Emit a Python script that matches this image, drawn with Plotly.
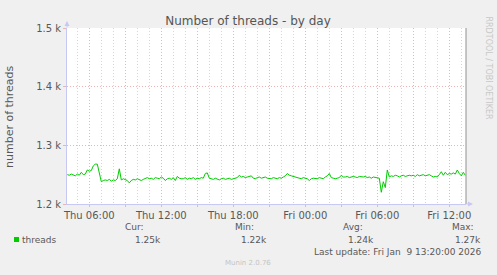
import plotly.graph_objects as go
import pandas as pd

# ---------------- data ----------------
start_time = "2026-01-08 04:10"
threads = [
    1250, 1249, 1251, 1250, 1248, 1251, 1249, 1254, 1250, 1251,
    1258, 1256, 1257, 1265, 1268, 1268, 1250, 1238, 1240, 1241,
    1240, 1242, 1239, 1241, 1240, 1243, 1260, 1241, 1243, 1242,
    1240, 1236, 1240, 1242, 1241, 1243, 1242, 1240, 1242, 1243,
    1245, 1243, 1244, 1242, 1245, 1244, 1243, 1246, 1244, 1240,
    1243, 1244, 1242, 1245, 1240, 1247, 1244, 1243, 1243, 1245,
    1242, 1244, 1243, 1245, 1242, 1244, 1243, 1245, 1244, 1252,
    1253, 1244, 1243, 1242, 1244, 1243, 1241, 1243, 1244, 1242,
    1243, 1244, 1242, 1243, 1244, 1245, 1249, 1246, 1247, 1245,
    1246, 1247, 1248, 1244, 1243, 1245, 1246, 1244, 1245, 1246,
    1244, 1244, 1243, 1245, 1244, 1243, 1245, 1244, 1246, 1248,
    1252, 1249, 1248, 1247, 1246, 1245, 1244, 1243, 1245, 1244,
    1243, 1240, 1243, 1244, 1244, 1243, 1245, 1244, 1243, 1246,
    1248, 1252, 1245, 1244, 1243, 1244, 1245, 1249, 1246, 1246,
    1247, 1245, 1246, 1247, 1246, 1245, 1247, 1246, 1246, 1247,
    1245, 1246, 1244, 1246, 1245, 1244, 1244, 1220, 1238, 1228,
    1258, 1246, 1248, 1247, 1249, 1248, 1246, 1248, 1249, 1247,
    1248, 1249, 1248, 1249, 1247, 1250, 1248, 1249, 1250, 1248,
    1249, 1250, 1248, 1246, 1247, 1246, 1250, 1255, 1249, 1254,
    1250, 1252, 1251, 1253, 1251, 1258, 1252, 1248, 1254, 1249,
]
times = pd.date_range(start_time, periods=len(threads), freq="10min")

y_tick_vals = [1200, 1300, 1400, 1500]
y_tick_text = ["1.2 k", "1.3 k", "1.4 k", "1.5 k"]
x_tick_vals = pd.date_range("2026-01-08 06:00", "2026-01-09 12:00", freq="3h")
x_tick_text = ["Thu 06:00", "", "Thu 12:00", "", "Thu 18:00", "", "Fri 00:00", "",
               "Fri 06:00", "", "Fri 12:00"]
x_range = ["2026-01-08 04:08:30", "2026-01-09 13:23:30"]

stat_names = ["Cur:", "Min:", "Avg:", "Max:"]
stat_values = ["1.25k", "1.22k", "1.24k", "1.27k"]
series_name = "threads"
last_update = "Last update: Fri Jan  9 13:20:00 2026"

# ---------------- layout helpers ----------------
W, H = 497, 275
L, R, T, B = 67, 466, 28, 204
FONT = "DejaVu Sans"
TXT = "#585858"
GRID_MAJ = "#eeb4b4"
GRID_MIN = "#d6d6d6"
AXIS = "#c8c8f4"


def px(x):
    return (x - L) / (R - L)


def py(y):
    return (B - y) / (B - T)


fig = go.Figure()
fig.add_trace(go.Scatter(
    x=times, y=threads, mode="lines", name=series_name,
    line=dict(color="#00cc00", width=1), hoverinfo="skip", showlegend=False,
))

fig.update_layout(
    width=W, height=H,
    margin=dict(l=L, r=W - R, t=T, b=H - B, pad=0),
    paper_bgcolor="#f0f0f0", plot_bgcolor="#ffffff",
    font=dict(family=FONT, color=TXT, size=9),
    showlegend=False,
    title=dict(text="Number of threads - by day", x=248 / W, xanchor="center",
               y=1 - 21 / H, yanchor="middle",
               font=dict(family=FONT, size=12, color="#555555")),
)

fig.update_xaxes(
    range=x_range, tickmode="array", tickvals=x_tick_vals, ticktext=x_tick_text,
    showgrid=True, gridcolor=GRID_MAJ, griddash="1px,2px", gridwidth=1,
    minor=dict(dtick=3600000, tick0="2026-01-08 00:00", showgrid=True,
               gridcolor=GRID_MIN, griddash="1px,2px", gridwidth=1),
    ticks="outside", ticklen=2, tickcolor=GRID_MAJ,
    showline=True, linecolor=AXIS, linewidth=1,
    tickfont=dict(size=10, color=TXT), zeroline=False, fixedrange=True,
)
fig.update_yaxes(
    range=[1200, 1500], tickmode="array", tickvals=y_tick_vals, ticktext=y_tick_text,
    showgrid=True, gridcolor=GRID_MAJ, griddash="1px,2px", gridwidth=1,
    ticks="outside", ticklen=3, tickcolor=GRID_MAJ,
    showline=True, linecolor=AXIS, linewidth=1,
    tickfont=dict(size=10, color=TXT), zeroline=False, fixedrange=True,
)

annotations = []
# y-axis title
annotations.append(dict(x=px(10), y=py(117), xref="paper", yref="paper",
                        text="number of threads", textangle=-90, showarrow=False,
                        font=dict(size=11, color=TXT), xanchor="center", yanchor="middle"))
# axis arrows
annotations.append(dict(x=0, y=py(21), xref="paper", yref="paper", ax=0, ay=8,
                        text="", showarrow=True, arrowhead=2, arrowsize=1,
                        arrowwidth=1, arrowcolor=AXIS))
annotations.append(dict(x=px(473), y=0, xref="paper", yref="paper", ax=-8, ay=0,
                        text="", showarrow=True, arrowhead=2, arrowsize=1,
                        arrowwidth=1, arrowcolor=AXIS))
# stats
name_right = [146, 256, 365, 476]
value_right = [163, 269, 376, 483]
for n, v, xn, xv in zip(stat_names, stat_values, name_right, value_right):
    annotations.append(dict(x=px(xn), y=py(227), xref="paper", yref="paper", text=n,
                            showarrow=False, xanchor="right", yanchor="middle",
                            font=dict(size=9, color=TXT)))
    annotations.append(dict(x=px(xv), y=py(239.5), xref="paper", yref="paper", text=v,
                            showarrow=False, xanchor="right", yanchor="middle",
                            font=dict(size=9, color=TXT)))
annotations.append(dict(x=px(20), y=py(239.5), xref="paper", yref="paper", text=series_name,
                        showarrow=False, xanchor="left", yanchor="middle",
                        font=dict(size=9, color=TXT)))
annotations.append(dict(x=px(483), y=py(252), xref="paper", yref="paper", text=last_update,
                        showarrow=False, xanchor="right", yanchor="middle",
                        font=dict(size=9, color=TXT)))
annotations.append(dict(x=px(248), y=py(263), xref="paper", yref="paper", text="Munin 2.0.76",
                        showarrow=False, xanchor="center", yanchor="middle",
                        font=dict(size=7, color="#c4c4c4")))
annotations.append(dict(x=px(488.5), y=py(68), xref="paper", yref="paper",
                        text="RRDTOOL / TOBI OETIKER", textangle=90, showarrow=False,
                        xanchor="center", yanchor="middle",
                        font=dict(size=8, color="#c8c8c8")))
fig.update_layout(annotations=annotations)

shapes = [
    dict(type="rect", xref="paper", yref="paper", x0=px(14), x1=px(19), y0=py(242), y1=py(237),
         fillcolor="#00cc00", line=dict(width=0)),
    dict(type="line", xref="paper", yref="paper", x0=1, x1=1, y0=0, y1=1,
         line=dict(color="#909090", width=1)),
]
fig.update_layout(shapes=shapes)

fig.write_html("out.html")
